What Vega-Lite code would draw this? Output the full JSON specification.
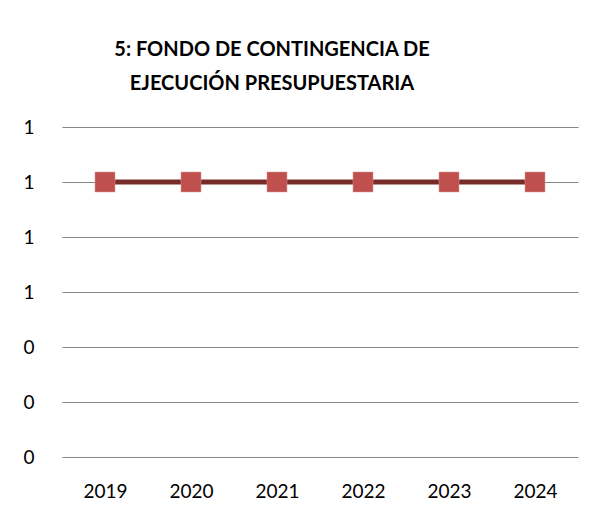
{
  "$schema": "https://vega.github.io/schema/vega-lite/v6.json",
  "autosize": "none",
  "width": 516,
  "height": 330,
  "padding": {"left": 62, "top": 127, "right": 22, "bottom": 63},
  "background": "white",
  "title": {
    "text": ["5: FONDO DE CONTINGENCIA DE", "EJECUCIÓN PRESUPUESTARIA"],
    "font": "Lato",
    "fontSize": 20,
    "fontWeight": "bold",
    "color": "black",
    "anchor": "middle",
    "lineHeight": 34,
    "offset": 24,
    "dx": -48
  },
  "config": {
    "view": {"stroke": null},
    "font": "Lato"
  },
  "data": {
    "values": [
      {"year": "2019", "value": 1},
      {"year": "2020", "value": 1},
      {"year": "2021", "value": 1},
      {"year": "2022", "value": 1},
      {"year": "2023", "value": 1},
      {"year": "2024", "value": 1}
    ]
  },
  "encoding": {
    "x": {
      "field": "year",
      "type": "ordinal",
      "scale": {"type": "point", "padding": 0.5},
      "axis": {
        "title": null,
        "labelAngle": 0,
        "labelFontSize": 19,
        "labelColor": "black",
        "labelPadding": 25,
        "domain": false,
        "ticks": false,
        "grid": false
      }
    },
    "y": {
      "field": "value",
      "type": "quantitative",
      "scale": {"domain": [0, 1.2], "nice": false},
      "axis": {
        "title": null,
        "values": [0, 0.2, 0.4, 0.6, 0.8, 1.0, 1.2],
        "format": ".0f",
        "labelFontSize": 19,
        "labelColor": "black",
        "labelPadding": 28,
        "domain": false,
        "ticks": false,
        "grid": true,
        "gridColor": "#868686",
        "gridWidth": 1.2
      }
    }
  },
  "layer": [
    {"mark": {"type": "line", "color": "#772C2A", "strokeWidth": 5}},
    {"mark": {"type": "point", "shape": "square", "filled": true, "size": 400, "color": "#C0504D", "opacity": 1, "stroke": "#D99694", "strokeWidth": 0.5}}
  ]
}
